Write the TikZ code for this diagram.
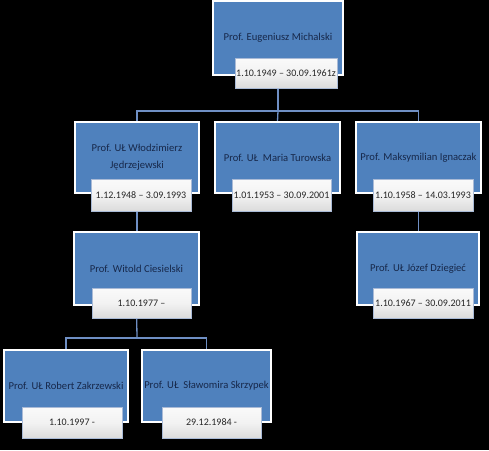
\documentclass[tikz,border=0pt]{standalone}
\usepackage{fontspec}
\setmainfont{Carlito}
\usetikzlibrary{backgrounds}
\definecolor{boxblue}{HTML}{4F81BD}
\definecolor{navytext}{HTML}{17284A}
\definecolor{linkblue}{HTML}{6F8FC4}
\definecolor{dateedge}{HTML}{A9BAD6}
\begin{document}
\begin{tikzpicture}[x=1pt,y=-1pt,
  bluebox/.style={rectangle,draw=white,line width=1.6pt,fill=boxblue,
    text=navytext,align=center,inner sep=2pt,font=\fontsize{10.6}{17}\selectfont},
  datebox/.style={rectangle,draw=dateedge,line width=0.8pt,
    top color=white!96!gray,bottom color=gray!28,middle color=white!90!gray,
    text=black!85,inner sep=1pt,font=\fontsize{10}{11}\selectfont},
  link/.style={draw=linkblue,line width=1.3pt}]
\useasboundingbox (0,0) rectangle (489,450);

% blue boxes
\node[bluebox,minimum width=130,minimum height=74] (b0) at (278,38) {Prof. Eugeniusz Michalski};
\node[bluebox,minimum width=124,minimum height=71] (b1) at (137,157.5) {Prof. UŁ Włodzimierz\\Jędrzejewski};
\node[bluebox,minimum width=125,minimum height=71] (b2) at (277.5,157.5) {Prof. UŁ~~Maria Turowska};
\node[bluebox,minimum width=125,minimum height=71] (b3) at (418.5,157.5) {Prof. Maksymilian Ignaczak};
\node[bluebox,minimum width=125,minimum height=73] (b4) at (136.5,268.5) {Prof. Witold Ciesielski};
\node[bluebox,minimum width=122,minimum height=73] (b5) at (418,268.5) {Prof. UŁ Józef Dziegieć};
\node[bluebox,minimum width=124,minimum height=72] (b6) at (66,386) {Prof. UŁ Robert Zakrzewski};
\node[bluebox,minimum width=123,minimum height=72] (b7) at (206.5,386) {Prof. UŁ~~Sławomira Skrzypek};

% date boxes
\node[datebox,minimum width=102,minimum height=30] (d0) at (286,73) {1.10.1949 – 30.09.1961z};
\node[datebox,minimum width=100,minimum height=32] (d1) at (141,195) {1.12.1948 – 3.09.1993};
\node[datebox,minimum width=99,minimum height=32] (d2) at (281.5,195) {1.01.1953 – 30.09.2001};
\node[datebox,minimum width=100,minimum height=32] (d3) at (423,195) {1.10.1958 – 14.03.1993};
\node[datebox,minimum width=99,minimum height=30] (d4) at (141.5,303) {1.10.1977 –};
\node[datebox,minimum width=100,minimum height=30] (d5) at (423,303) {1.10.1967 – 30.09.2011};
\node[datebox,minimum width=100,minimum height=31] (d6) at (72,422.5) {1.10.1997 -};
\node[datebox,minimum width=99,minimum height=31] (d7) at (211.5,422.5) {29.12.1984 -};

% background and connectors behind the boxes
\begin{scope}[on background layer]
\fill[black] (0,0) rectangle (489,450);
\coordinate (j0) at (278,111);
\coordinate (j4) at (137,338);
\path[link] (b0.south) -- (j0);
\path[link] (b1.north) |- (j0) -| (b3.north);
\path[link] (j0) -- (b2.north);
\path[link] (b1.south) -- (b1.south |- b4.north);
\path[link] (b3.south) -- (b3.south |- b5.north);
\path[link] (b4.south) -- (j4);
\path[link] (b6.north) |- (j4) -| (b7.north);
\end{scope}
\end{tikzpicture}
\end{document}
